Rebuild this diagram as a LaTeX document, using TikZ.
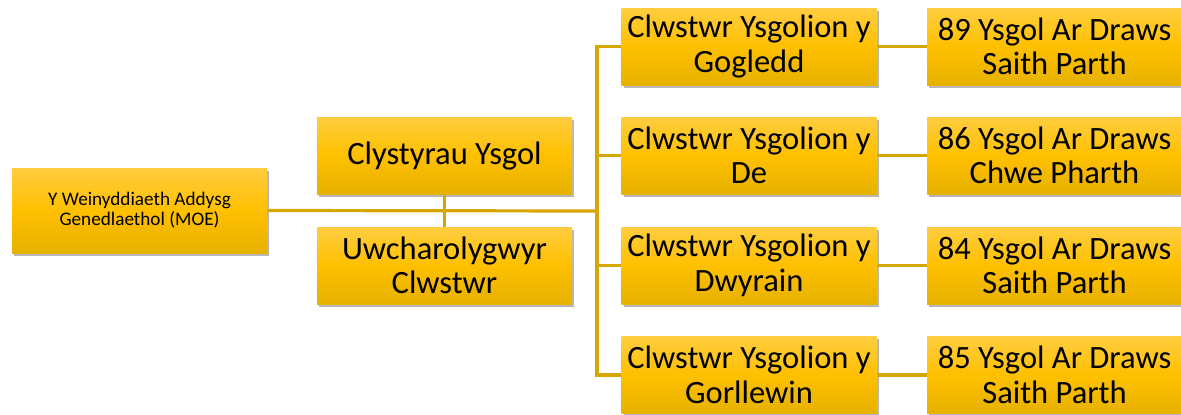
\documentclass[tikz,border=0pt]{standalone}
\usepackage{fontspec}
\setmainfont{Carlito}
\usetikzlibrary{shadows}
\definecolor{linegold}{HTML}{D6A700}
\definecolor{boxtop}{HTML}{FFCD40}
\definecolor{boxmid}{HTML}{FFC000}
\definecolor{boxbot}{HTML}{E6B100}
\tikzset{
  box/.style={rectangle, minimum width=191.25pt, minimum height=57.75pt,
    top color=boxtop, bottom color=boxbot, middle color=boxmid,
    align=center, inner sep=0pt, text=black,
    drop shadow={shadow xshift=1.8pt, shadow yshift=-2.2pt, opacity=0.4, fill=black!70},
    font=\fontsize{24.4}{25.8}\selectfont},
  smallbox/.style={box, minimum height=63.75pt, font=\fontsize{14.4}{15}\selectfont},
  conn/.style={draw=linegold, line width=2.4pt}
}
\begin{document}
\begin{tikzpicture}[x=0.75pt,y=-0.75pt]
\useasboundingbox (0,0) rectangle (1181,414);
\node[smallbox] (moe) at (139.5,210.5) {Y Weinyddiaeth Addysg\\Genedlaethol (MOE)};
\node[box] (cly) at (444.5,155.5) {Clystyrau Ysgol};
\node[box] (uwc) at (444.5,265.5) {Uwcharolygwyr\\Clwstwr};
\node[box] (c1) at (749,46.5) {Clwstwr Ysgolion y\\Gogledd};
\node[box] (c2) at (749,155.5) {Clwstwr Ysgolion y\\De};
\node[box] (c3) at (749,265.5) {Clwstwr Ysgolion y\\Dwyrain};
\node[box] (c4) at (749,375) {Clwstwr Ysgolion y\\Gorllewin};
\node[box] (s1) at (1054.5,46.5) {89 Ysgol Ar Draws\\Saith Parth};
\node[box] (s2) at (1054.5,155.5) {86 Ysgol Ar Draws\\Chwe Pharth};
\node[box] (s3) at (1054.5,265.5) {84 Ysgol Ar Draws\\Saith Parth};
\node[box] (s4) at (1054.5,375) {85 Ysgol Ar Draws\\Saith Parth};
\coordinate (jx) at (597,211);
\draw[conn] (moe.east) -- (jx);
\draw[conn] (cly.south) -- (uwc.north);
\draw[conn] (c1.west) -| (jx);
\draw[conn] (c4.west) -| (jx);
\draw[conn] (c2.west) -| (jx);
\draw[conn] (c3.west) -| (jx);
\draw[conn] (c1.east) -- (s1.west);
\draw[conn] (c2.east) -- (s2.west);
\draw[conn] (c3.east) -- (s3.west);
\draw[conn] (c4.east) -- (s4.west);
\end{tikzpicture}
\end{document}
